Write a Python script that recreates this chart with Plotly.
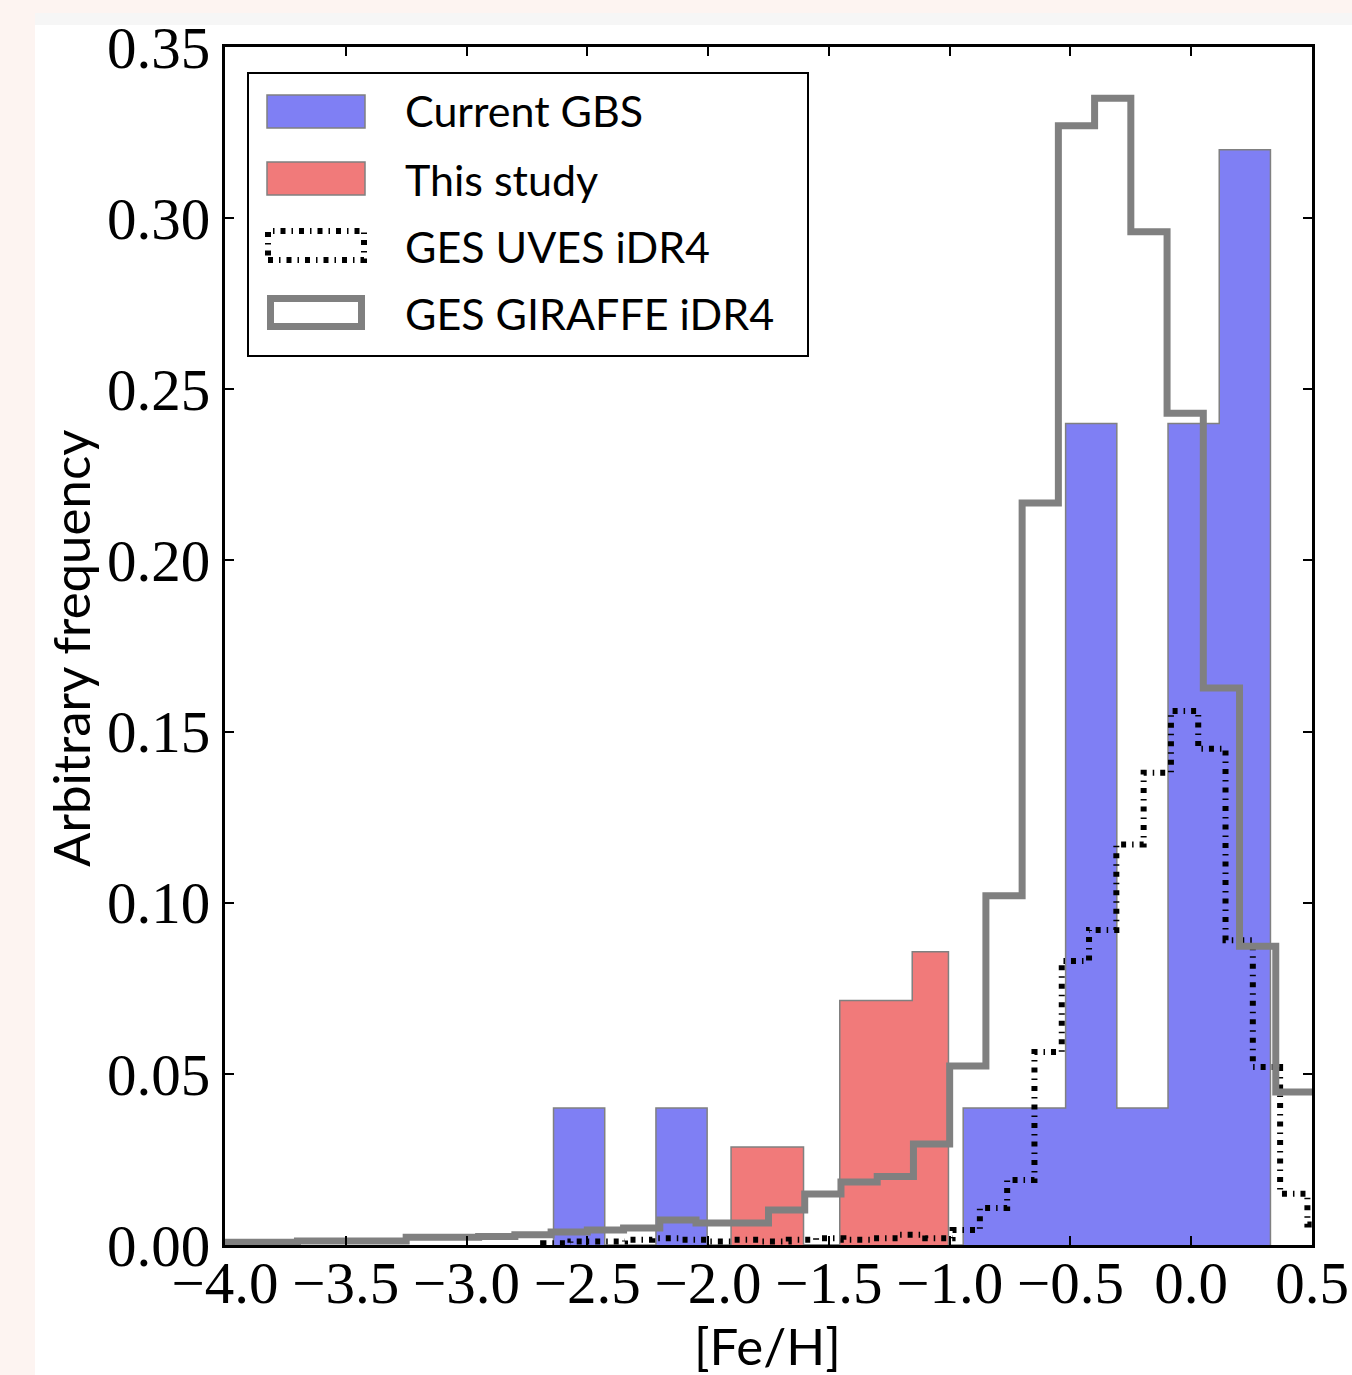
import numpy as np
import plotly.graph_objects as go

# ---------------- data ----------------
# Current GBS (stepfilled histogram)
gbs_start = -2.64
gbs_width = 0.212
gbs_values = [0.04, 0.0, 0.04, 0.0, 0.0, 0.0, 0.0, 0.0, 0.04, 0.04, 0.24, 0.04, 0.24, 0.32]

# This study (stepfilled histogram)
study_start = -1.905
study_width = 0.15
study_values = [0.0286, 0.0286, 0.0, 0.0714, 0.0714, 0.0857]

# GES UVES iDR4 (step histogram, dash-dot)
uves_start = -2.683
uves_width = 0.113
uves_values = [0.0005, 0.001, 0.001, 0.0015, 0.002, 0.0015, 0.001, 0.0015, 0.001, 0.0015,
               0.002, 0.0015, 0.002, 0.003, 0.002, 0.0044, 0.0108, 0.019, 0.0564, 0.083,
               0.092, 0.117, 0.138, 0.156, 0.145, 0.089, 0.052, 0.015, 0.006]

# GES GIRAFFE iDR4 (step histogram, thick grey)
gir_start = -4.0
gir_width = 0.15
gir_values = [0.0008, 0.0008, 0.0012, 0.0012, 0.0012, 0.0023, 0.0023, 0.0025, 0.003, 0.0038,
              0.0044, 0.005, 0.0073, 0.0064, 0.0064, 0.0102, 0.0149, 0.0184, 0.020, 0.0295,
              0.0523, 0.102, 0.2168, 0.327, 0.335, 0.296, 0.243, 0.1627, 0.0873, 0.0447]

legend_labels = ["Current GBS", "This study", "GES UVES iDR4", "GES GIRAFFE iDR4"]
x_title = "[Fe/H]"
y_title = "Arbitrary frequency"

# ---------------- helpers ----------------
def step_xy(start, width, vals, close_right=True):
    edges = [start + width * i for i in range(len(vals) + 1)]
    xs = [edges[0]] + edges[:-1] + [edges[-1]]
    ys = [0.0] + list(vals) + [vals[-1]]
    if close_right:
        xs.append(edges[-1])
        ys.append(0.0)
    return xs, ys

W, H = 1352, 1375
ML, MR, MT, MB = 225, 40, 47, 130
PW, PH = W - ML - MR, H - MT - MB

def px(x):
    return (x - ML) / PW

def py(y):
    return (H - MB - y) / PH

BLUE = "rgb(127,127,244)"
RED = "rgb(241,122,122)"
GREY = "rgb(128,128,128)"
EDGE = "rgb(128,128,128)"
UVES_DASH = "5px,6px,1.5px,6px"

fig = go.Figure()

bx, by = step_xy(gbs_start, gbs_width, gbs_values)
fig.add_trace(go.Scatter(x=bx, y=by, mode="lines", line_shape="hv", fill="tozeroy",
                         fillcolor=BLUE, line=dict(color=EDGE, width=1.5),
                         name=legend_labels[0]))

rx, ry = step_xy(study_start, study_width, study_values)
fig.add_trace(go.Scatter(x=rx, y=ry, mode="lines", line_shape="hv", fill="tozeroy",
                         fillcolor=RED, line=dict(color=EDGE, width=1.5),
                         name=legend_labels[1]))

ux, uy = step_xy(uves_start, uves_width, uves_values)
fig.add_trace(go.Scatter(x=ux, y=uy, mode="lines", line_shape="hv",
                         line=dict(color="black", width=6, dash=UVES_DASH),
                         name=legend_labels[2]))

gx, gy = step_xy(gir_start, gir_width, gir_values, close_right=False)
fig.add_trace(go.Scatter(x=gx, y=gy, mode="lines", line_shape="hv",
                         line=dict(color=GREY, width=7), name=legend_labels[3]))

tickfont = dict(family="Liberation Serif", size=59, color="black")
axis_common = dict(showline=True, linewidth=3, linecolor="black", mirror="allticks",
                   ticks="inside", ticklen=9, tickwidth=1.5, tickcolor="black",
                   showgrid=False, zeroline=False, tickfont=tickfont)

fig.update_layout(
    width=W, height=H, margin=dict(l=ML, r=MR, t=MT, b=MB, autoexpand=False),
    paper_bgcolor="rgb(253,244,241)", plot_bgcolor="white", showlegend=False,
    xaxis=dict(range=[-4.0, 0.5], dtick=0.5, tick0=0, tickformat=".1f",
               ticklabelstandoff=-16, **axis_common),
    yaxis=dict(range=[0, 0.35], dtick=0.05, tick0=0, tickformat=".2f", **axis_common),
)

shapes = []
# white figure background and light grey top strip
shapes.append(dict(type="rect", xref="paper", yref="paper", x0=px(35), x1=px(W + 5),
                   y0=py(H + 5), y1=py(25), fillcolor="white", line_width=0, layer="below"))
shapes.append(dict(type="rect", xref="paper", yref="paper", x0=px(35), x1=px(W + 5),
                   y0=py(25), y1=py(13), fillcolor="rgb(246,246,246)", line_width=0, layer="below"))
# legend box
shapes.append(dict(type="rect", xref="paper", yref="paper", x0=px(248), x1=px(808),
                   y0=py(356), y1=py(73), fillcolor="white",
                   line=dict(color="black", width=2), layer="above"))
# legend symbols
shapes.append(dict(type="rect", xref="paper", yref="paper", x0=px(267), x1=px(365),
                   y0=py(128), y1=py(95), fillcolor=BLUE, line=dict(color=EDGE, width=1.5), layer="above"))
shapes.append(dict(type="rect", xref="paper", yref="paper", x0=px(267), x1=px(365),
                   y0=py(195), y1=py(162), fillcolor=RED, line=dict(color=EDGE, width=1.5), layer="above"))
shapes.append(dict(type="rect", xref="paper", yref="paper", x0=px(268), x1=px(364),
                   y0=py(260), y1=py(231), fillcolor="rgba(0,0,0,0)",
                   line=dict(color="black", width=6, dash=UVES_DASH), layer="above"))
shapes.append(dict(type="rect", xref="paper", yref="paper", x0=px(270.5), x1=px(361.5),
                   y0=py(326.5), y1=py(298.5), fillcolor="white",
                   line=dict(color=GREY, width=7), layer="above"))
fig.update_layout(shapes=shapes)

ann = []
leg_font = dict(family="Lato", size=43, color="black")
for lab, yc in zip(legend_labels, [110, 179, 246, 313]):
    ann.append(dict(text=lab, xref="paper", yref="paper", x=px(403), y=py(yc),
                    xanchor="left", yanchor="middle", showarrow=False, font=leg_font))
ann.append(dict(text=x_title, xref="paper", yref="paper", x=px(767), y=py(1346),
                xanchor="center", yanchor="middle", showarrow=False,
                font=dict(family="Lato", size=51, color="black")))
ann.append(dict(text=y_title, xref="paper", yref="paper", x=px(70), y=py(648),
                xanchor="center", yanchor="middle", textangle=-90, showarrow=False,
                font=dict(family="Lato", size=51, color="black")))
fig.update_layout(annotations=ann)

fig.write_html("out.html", config={"displayModeBar": False},
               post_script="document.body.style.margin='0';document.body.style.overflow='hidden';")
